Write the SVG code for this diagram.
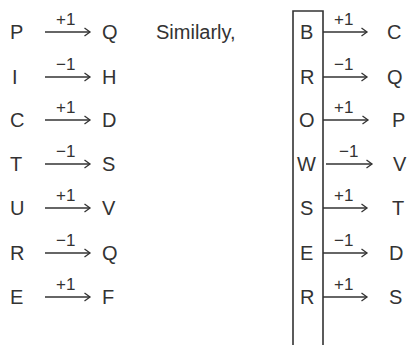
<svg xmlns="http://www.w3.org/2000/svg" width="407" height="345" viewBox="0 0 407 345">
<style>
.t{font-family:"Liberation Sans",Arial,sans-serif;font-size:20px;fill:#333;}
.l{font-family:"Liberation Sans",Arial,sans-serif;font-size:17px;fill:#333;}
.a{stroke:#333;stroke-width:1.3;fill:none;}
</style>
<defs>
<marker id="h" markerWidth="10" markerHeight="10" refX="8" refY="5" orient="auto" markerUnits="userSpaceOnUse">
<path d="M2.5,1 L8,5 L2.5,9" fill="none" stroke="#333" stroke-width="1.3"/>
</marker>
</defs>
<rect width="407" height="345" fill="#fff"/>
<g id="connectors">
<line class="a" x1="45" y1="32" x2="90" y2="32" marker-end="url(#h)"/>
<line class="a" x1="45" y1="77" x2="90" y2="77" marker-end="url(#h)"/>
<line class="a" x1="45" y1="120" x2="90" y2="120" marker-end="url(#h)"/>
<line class="a" x1="45" y1="164" x2="90" y2="164" marker-end="url(#h)"/>
<line class="a" x1="45" y1="208" x2="90" y2="208" marker-end="url(#h)"/>
<line class="a" x1="45" y1="253" x2="90" y2="253" marker-end="url(#h)"/>
<line class="a" x1="45" y1="297" x2="90" y2="297" marker-end="url(#h)"/>
<line class="a" x1="323" y1="32" x2="367" y2="32" marker-end="url(#h)"/>
<line class="a" x1="323" y1="77" x2="367" y2="77" marker-end="url(#h)"/>
<line class="a" x1="323" y1="120" x2="368" y2="120" marker-end="url(#h)"/>
<line class="a" x1="326" y1="164" x2="372" y2="164" marker-end="url(#h)"/>
<line class="a" x1="323" y1="208" x2="367" y2="208" marker-end="url(#h)"/>
<line class="a" x1="323" y1="253" x2="367" y2="253" marker-end="url(#h)"/>
<line class="a" x1="323" y1="297" x2="367" y2="297" marker-end="url(#h)"/>
</g>
<g id="box"><path d="M293,345 V11 H323 V345" fill="none" stroke="#333" stroke-width="1.6"/></g>
<g id="labels">
<text class="l" x="56" y="25">+1</text>
<text class="l" x="56" y="70">−1</text>
<text class="l" x="56" y="113">+1</text>
<text class="l" x="56" y="157">−1</text>
<text class="l" x="56" y="201">+1</text>
<text class="l" x="56" y="246">−1</text>
<text class="l" x="56" y="290">+1</text>
<text class="l" x="334" y="25">+1</text>
<text class="l" x="334" y="70">−1</text>
<text class="l" x="334" y="113">+1</text>
<text class="l" x="339" y="157">−1</text>
<text class="l" x="334" y="201">+1</text>
<text class="l" x="334" y="246">−1</text>
<text class="l" x="334" y="290">+1</text>
</g>
<g id="left-col">
<g id="n-P"><text class="t" x="10" y="39">P</text></g>
<g id="n-Q1"><text class="t" x="102" y="39">Q</text></g>
<g id="n-I"><text class="t" x="12" y="84">I</text></g>
<g id="n-H"><text class="t" x="102" y="84">H</text></g>
<g id="n-C"><text class="t" x="10" y="127">C</text></g>
<g id="n-D1"><text class="t" x="102" y="127">D</text></g>
<g id="n-T"><text class="t" x="10" y="171">T</text></g>
<g id="n-S1"><text class="t" x="102" y="171">S</text></g>
<g id="n-U"><text class="t" x="10" y="215">U</text></g>
<g id="n-V1"><text class="t" x="102" y="215">V</text></g>
<g id="n-R1"><text class="t" x="10" y="260">R</text></g>
<g id="n-Q2"><text class="t" x="102" y="260">Q</text></g>
<g id="n-E1"><text class="t" x="10" y="304">E</text></g>
<g id="n-F"><text class="t" x="102" y="304">F</text></g>
</g>
<g id="similarly"><text class="t" x="156" y="39">Similarly,</text></g>
<g id="right-col">
<g id="n-B"><text class="t" x="300" y="39">B</text></g>
<g id="n-C2"><text class="t" x="387" y="39">C</text></g>
<g id="n-R2"><text class="t" x="300" y="84">R</text></g>
<g id="n-Q3"><text class="t" x="387" y="84">Q</text></g>
<g id="n-O"><text class="t" x="299" y="127">O</text></g>
<g id="n-P2"><text class="t" x="392" y="127">P</text></g>
<g id="n-W"><text class="t" x="297" y="171">W</text></g>
<g id="n-V2"><text class="t" x="393" y="171">V</text></g>
<g id="n-S2"><text class="t" x="300" y="215">S</text></g>
<g id="n-T2"><text class="t" x="392" y="215">T</text></g>
<g id="n-E2"><text class="t" x="300" y="260">E</text></g>
<g id="n-D2"><text class="t" x="389" y="260">D</text></g>
<g id="n-R3"><text class="t" x="300" y="304">R</text></g>
<g id="n-S3"><text class="t" x="389" y="304">S</text></g>
</g>
</svg>
